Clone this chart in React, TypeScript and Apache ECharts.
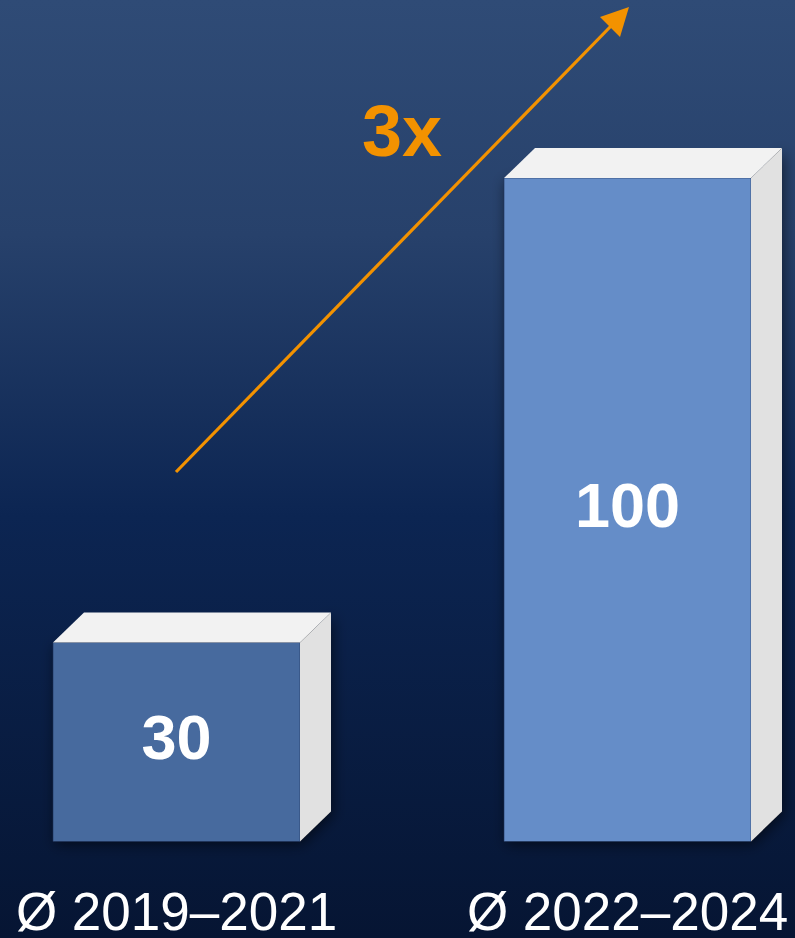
import React, { useEffect, useRef } from "react";
import * as echarts from "echarts";

const categories = ["Ø 2019–2021", "Ø 2022–2024"];
const values = [30, 100];
const frontColors = ["#476A9E", "#658DC8"];
const growthLabel = "3x";

const FONT = "'Liberation Sans', Arial, Helvetica, sans-serif";

export default function App() {
  const ref = useRef<HTMLDivElement>(null);
  useEffect(() => {
    if (!ref.current) return;
    const chart = echarts.init(ref.current, null, { renderer: "svg" });
    const barW = 247;
    const dx = 31;
    const dy = 30;
    chart.setOption({
      animation: false,
      backgroundColor: new echarts.graphic.LinearGradient(0, 0, 0, 1, [
        { offset: 0, color: "#2F4B76" },
        { offset: 0.25, color: "#27416B" },
        { offset: 0.55, color: "#0C2552" },
        { offset: 1, color: "#061533" },
      ]),
      grid: { left: 176.5, right: 167.5, top: 178, bottom: 96 },
      xAxis: {
        type: "category",
        data: categories,
        boundaryGap: false,
        axisLine: { show: false },
        axisTick: { show: false },
        splitLine: { show: false },
        axisLabel: {
          color: "#FFFFFF",
          fontSize: 53,
          lineHeight: 48,
          fontFamily: FONT,
          margin: 46,
        },
      },
      yAxis: { type: "value", min: 0, max: 100, show: false, splitLine: { show: false } },
      series: [
        {
          type: "custom",
          data: values.map((v, i) => [i, v]),
          renderItem: (params: any, api: any) => {
            const idx = api.value(0);
            const val = api.value(1);
            const top = api.coord([idx, val]);
            const base = api.coord([idx, 0]);
            const l = top[0] - barW / 2;
            const r = top[0] + barW / 2;
            const t = top[1];
            const b = base[1];
            return {
              type: "group",
              children: [
                {
                  type: "polygon",
                  shape: { points: [[l, t], [r, t], [r + dx, t - dy], [r + dx, b - dy], [r, b], [l, b]] },
                  style: { fill: "#000", shadowBlur: 14, shadowColor: "rgba(0,0,0,0.55)", shadowOffsetX: 2, shadowOffsetY: 3 },
                },
                {
                  type: "rect",
                  shape: { x: l, y: t, width: barW, height: b - t },
                  style: { fill: frontColors[idx], stroke: "rgba(30,50,90,0.6)", lineWidth: 1 },
                },
                {
                  type: "polygon",
                  shape: { points: [[l, t], [l + dx, t - dy], [r + dx, t - dy], [r, t]] },
                  style: { fill: "#F2F2F2" },
                },
                {
                  type: "polygon",
                  shape: { points: [[r, t], [r + dx, t - dy], [r + dx, b - dy], [r, b]] },
                  style: { fill: "#E1E1E1" },
                },
                {
                  type: "text",
                  style: {
                    text: String(val),
                    x: top[0],
                    y: (t + b) / 2 - 5,
                    align: "center",
                    verticalAlign: "middle",
                    fill: "#FFFFFF",
                    fontSize: 63,
                    fontWeight: "bold",
                    fontFamily: FONT,
                  },
                },
              ],
            };
          },
        },
      ],
      graphic: [
        {
          type: "line",
          shape: { x1: 176, y1: 472, x2: 612, y2: 25 },
          style: { stroke: "#F39200", lineWidth: 3.2 },
        },
        {
          type: "polygon",
          shape: { points: [[629, 7], [600, 17], [620, 37]] },
          style: { fill: "#F39200" },
        },
        {
          type: "text",
          style: {
            text: growthLabel,
            x: 402,
            y: 131,
            align: "center",
            verticalAlign: "middle",
            fill: "#F39200",
            fontSize: 72,
            fontWeight: "bold",
            fontFamily: FONT,
          },
        },
      ],
    });
    return () => chart.dispose();
  }, []);
  return (
    <div
      ref={ref}
      style={{ position: "absolute", left: 0, top: 0, width: 795, height: 938 }}
    />
  );
}
